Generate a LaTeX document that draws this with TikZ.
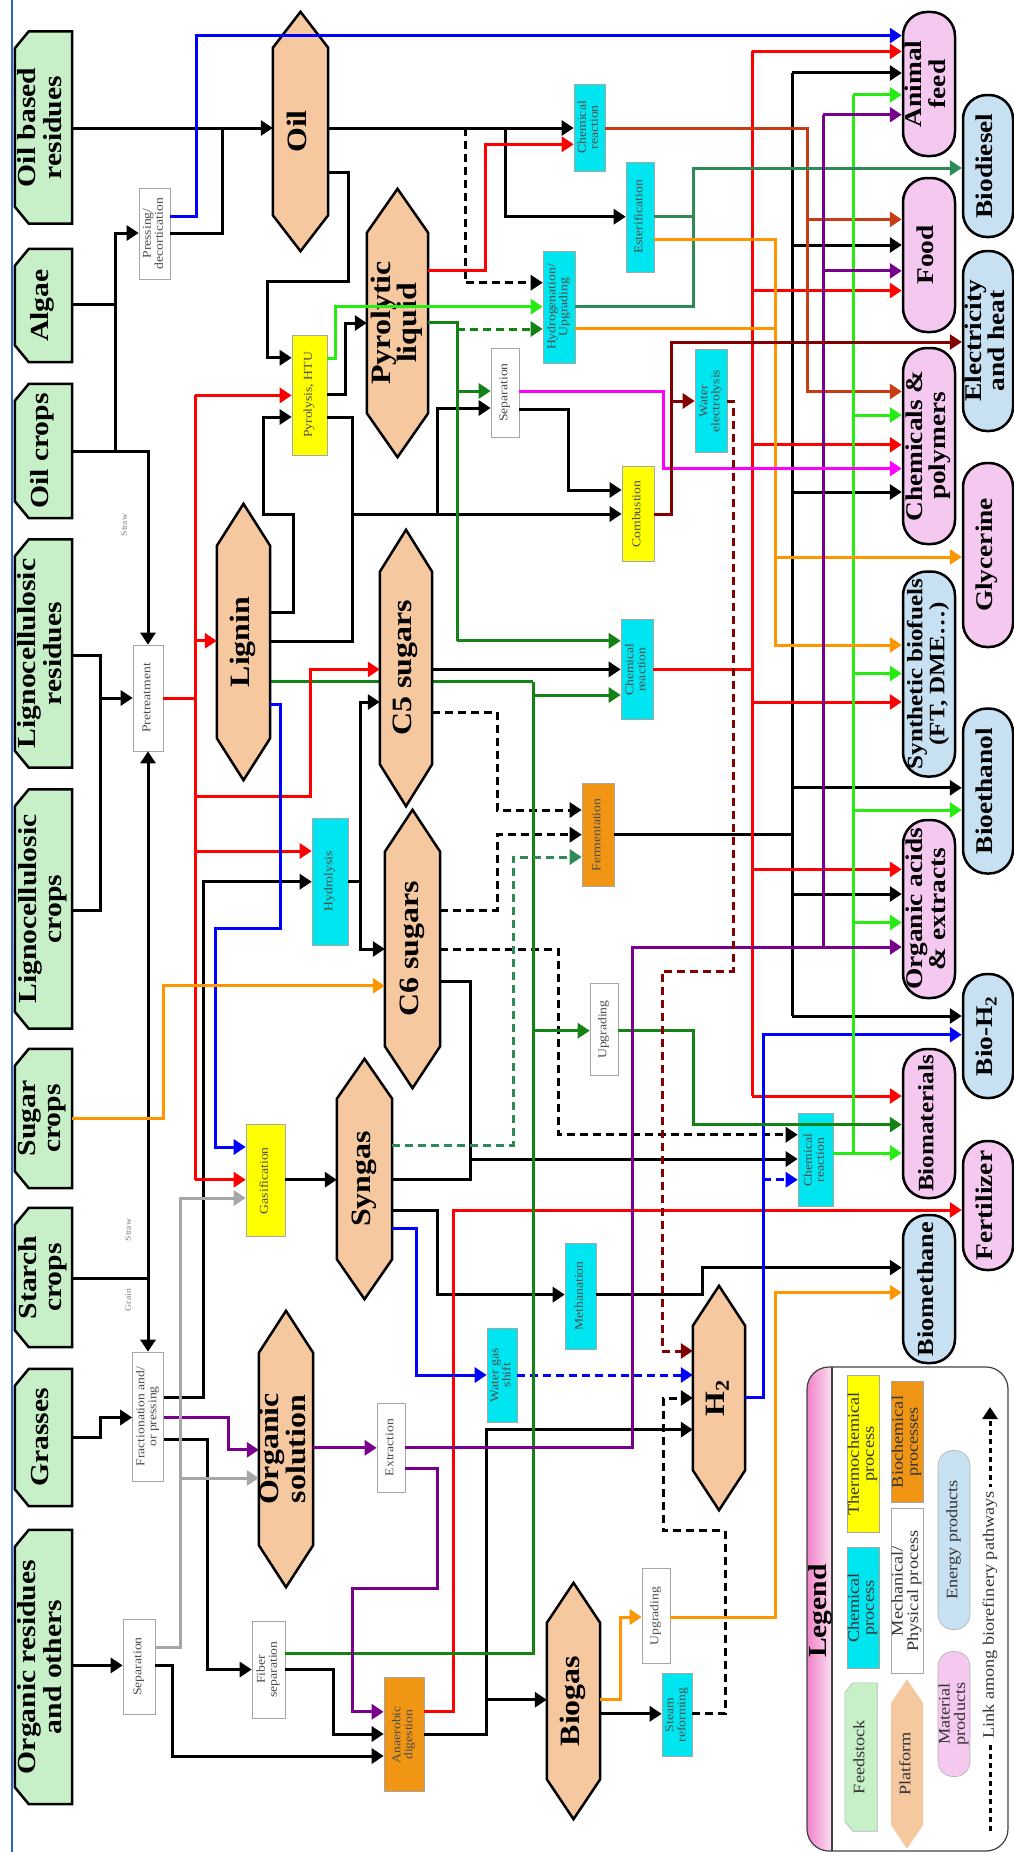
\documentclass[tikz,border=0pt]{standalone}
\usepackage{fontspec}
\setmainfont{Liberation Serif}[FakeStretch=1.14]
\usepackage{graphicx}
\usetikzlibrary{arrows.meta,backgrounds}

\definecolor{feedgreen}{RGB}{200,240,200}
\definecolor{plattan}{RGB}{245,200,160}
\definecolor{matpink}{RGB}{245,200,240}
\definecolor{enblue}{RGB}{200,225,242}
\definecolor{chemcyan}{RGB}{0,230,240}
\definecolor{thyellow}{RGB}{255,255,0}
\definecolor{bioorange}{RGB}{240,150,20}
\definecolor{dkgreen}{RGB}{20,130,20}
\definecolor{ltgreen}{RGB}{40,235,20}
\definecolor{seagreen}{RGB}{46,139,87}
\definecolor{orangeln}{RGB}{255,150,0}
\definecolor{purpleln}{RGB}{120,0,140}
\definecolor{maroonln}{RGB}{130,0,0}
\definecolor{rustln}{RGB}{200,60,20}
\definecolor{magentaln}{RGB}{255,0,255}
\definecolor{legpink}{RGB}{240,130,200}
\definecolor{frameblue}{RGB}{40,100,200}

\newcommand\vtext[1]{\rotatebox{90}{\begin{tabular}{@{}c@{}}#1\end{tabular}}}

\tikzset{
  feedst/.style={minimum width=57, inner sep=0, font=\fontsize{26}{25}\selectfont\bfseries},
  plat/.style={inner sep=0, font=\fontsize{28}{25}\selectfont\bfseries},
  matprod/.style={draw, line width=2.5pt, fill=matpink, rounded corners=24, inner sep=0, font=\fontsize{24}{23}\selectfont\bfseries},
  enprod/.style={matprod, fill=enblue},
  mechproc/.style={draw=black!35, line width=0.6pt, fill=white, inner sep=0, font=\fontsize{12}{12}\selectfont, text=black!70},
  chemproc/.style={mechproc, fill=chemcyan},
  thermproc/.style={mechproc, fill=thyellow},
  bioproc/.style={mechproc, fill=bioorange},
  ar/.style={line width=3pt, -{Triangle[length=12pt,width=15pt]}},
  ln/.style={line width=3pt},
  dsh/.style={dash pattern=on 8pt off 5pt},
  lbl/.style={font=\fontsize{8.5}{9}\selectfont, text=black!50, inner sep=0},
  legitem/.style={inner sep=0, minimum width=32, font=\fontsize{16}{15}\selectfont, text=black!80},
}

\begin{document}
\begin{tikzpicture}[x=1pt, y=-1pt]
  \useasboundingbox (0,0) rectangle (1014,1852);
  \draw[frameblue, line width=2pt] (12,0) -- (12,1852);

  \node[feedst, minimum height=192] (oilres) at (43.5,127.5) {\vtext{Oil based\\residues}};
  \node[feedst, minimum height=113] (algae) at (43.5,305.5) {\vtext{Algae}};
  \node[feedst, minimum height=134] (oilcrop) at (43.5,451) {\vtext{Oil crops}};
  \node[feedst, minimum height=228] (lignores) at (43.5,653.5) {\vtext{Lignocellulosic\\residues}};
  \node[feedst, minimum height=239] (lignocrop) at (43.5,909) {\vtext{Lignocellulosic\\crops}};
  \node[feedst, minimum height=139] (sugar) at (43.5,1118.5) {\vtext{Sugar\\crops}};
  \node[feedst, minimum height=139] (starch) at (43.5,1277.5) {\vtext{Starch\\crops}};
  \node[feedst, minimum height=137] (grasses) at (43.5,1437.5) {\vtext{Grasses}};
  \node[feedst, minimum height=274] (orgres) at (43.5,1667) {\vtext{Organic residues\\and others}};

  \node[plat, minimum width=55, minimum height=239] (oil) at (300.5,131.5) {\vtext{Oil}};
  \node[plat, minimum width=61, minimum height=268] (pyro) at (397.5,323) {\vtext{Pyrolytic\\liquid}};
  \node[plat, minimum width=53, minimum height=276] (lignin) at (243.5,642) {\vtext{Lignin}};
  \node[plat, minimum width=52, minimum height=276] (c5) at (406,668) {\vtext{C5 sugars}};
  \node[plat, minimum width=55, minimum height=278] (c6) at (412.5,949) {\vtext{C6 sugars}};
  \node[plat, minimum width=55, minimum height=240] (syngas) at (364.5,1179) {\vtext{Syngas}};
  \node[plat, minimum width=54, minimum height=276] (orgsol) at (286,1449) {\vtext{Organic\\solution}};
  \node[plat, minimum width=53, minimum height=236] (biogas) at (573.5,1701) {\vtext{Biogas}};
  \node[plat, minimum width=52, minimum height=224] (h2) at (719,1398) {\vtext{H\textsubscript{2}}};

  \node[mechproc, minimum width=31, minimum height=91] (pressing) at (154.5,233.5) {\vtext{Pressing/\\decortication}};
  \node[mechproc, minimum width=30, minimum height=106] (pretreat) at (148,698) {\vtext{Pretreatment}};
  \node[mechproc, minimum width=31, minimum height=129] (fract) at (148,1416.5) {\vtext{Fractionation and/\\or pressing}};
  \node[mechproc, minimum width=32, minimum height=95] (sepleft) at (139,1666.5) {\vtext{Separation}};
  \node[mechproc, minimum width=33, minimum height=97] (fiber) at (268.5,1669.5) {\vtext{Fiber\\separation}};
  \node[mechproc, minimum width=28, minimum height=89] (extract) at (391,1447.5) {\vtext{Extraction}};
  \node[mechproc, minimum width=28, minimum height=95] (upglow) at (656,1616) {\vtext{Upgrading}};
  \node[mechproc, minimum width=28, minimum height=92] (upgmid) at (604,1029.6) {\vtext{Upgrading}};
  \node[mechproc, minimum width=28, minimum height=89] (sepup) at (505,392.5) {\vtext{Separation}};
  \node[chemproc, minimum width=31, minimum height=87] (chemtop) at (589.5,127.3) {\vtext{Chemical\\reaction}};
  \node[chemproc, minimum width=28, minimum height=110] (ester) at (640,217) {\vtext{Esterification}};
  \node[chemproc, minimum width=32, minimum height=112] (hydro) at (559,307) {\vtext{Hydrogenation/\\Upgrading}};
  \node[chemproc, minimum width=32, minimum height=103] (waterel) at (711,401) {\vtext{Water\\electrolysis}};
  \node[chemproc, minimum width=36, minimum height=127] (hydrol) at (330,881.5) {\vtext{Hydrolysis}};
  \node[chemproc, minimum width=32, minimum height=100] (chemmid) at (637,669.6) {\vtext{Chemical\\reaction}};
  \node[chemproc, minimum width=35, minimum height=93] (chemlow) at (815.5,1160) {\vtext{Chemical\\reaction}};
  \node[chemproc, minimum width=30, minimum height=94] (wgs) at (502,1375) {\vtext{Water gas\\shift}};
  \node[chemproc, minimum width=31, minimum height=106] (methan) at (580.5,1296) {\vtext{Methanation}};
  \node[chemproc, minimum width=30, minimum height=83] (steam) at (677,1715) {\vtext{Steam\\reforming}};
  \node[thermproc, minimum width=35, minimum height=120] (pyrol) at (309.5,395) {\vtext{Pyrolysis, HTU}};
  \node[thermproc, minimum width=32, minimum height=95] (comb) at (638,514) {\vtext{Combustion}};
  \node[thermproc, minimum width=39, minimum height=112] (gasif) at (265.5,1180.6) {\vtext{Gasification}};
  \node[bioproc, minimum width=32, minimum height=103] (ferm) at (598,835) {\vtext{Fermentation}};
  \node[bioproc, minimum width=40, minimum height=114] (ad) at (404,1734.6) {\vtext{Anaerobic\\digestion}};

  \node[matprod, minimum width=52, minimum height=144] (afeed) at (929,84) {\vtext{Animal\\feed}};
  \node[matprod, minimum width=52, minimum height=154] (food) at (929,255) {\vtext{Food}};
  \node[matprod, minimum width=52, minimum height=196] (chempoly) at (929,446) {\vtext{Chemicals \&\\polymers}};
  \node[enprod, minimum width=52, minimum height=205, font=\fontsize{22}{22}\selectfont\bfseries] (synfuel) at (929,674) {\vtext{Synthetic biofuels\\(FT, DME…)}};
  \node[matprod, minimum width=52, minimum height=178] (orgacid) at (929,909) {\vtext{Organic acids\\\& extracts}};
  \node[matprod, minimum width=52, minimum height=149, font=\fontsize{22}{22}\selectfont\bfseries] (biomat) at (929,1123.5) {\vtext{Biomaterials}};
  \node[enprod, minimum width=52, minimum height=148, font=\fontsize{23}{23}\selectfont\bfseries] (biometh) at (929,1289) {\vtext{Biomethane}};
  \node[enprod, minimum width=50, minimum height=142] (biodiesel) at (988,166) {\vtext{Biodiesel}};
  \node[enprod, minimum width=50, minimum height=180] (elec) at (988,341) {\vtext{Electricity\\and heat}};
  \node[matprod, minimum width=50, minimum height=184] (glyc) at (988,555) {\vtext{Glycerine}};
  \node[enprod, minimum width=50, minimum height=165] (bioeth) at (988,791) {\vtext{Bioethanol}};
  \node[enprod, minimum width=50, minimum height=124] (bioh2) at (988,1036) {\vtext{Bio-H\textsubscript{2}}};
  \node[matprod, minimum width=50, minimum height=129] (fert) at (988,1205.5) {\vtext{Fertilizer}};

  \node[lbl] (straw1) at (124,525) {\rotatebox{90}{Straw}};
  \node[lbl] (straw2) at (128,1230) {\rotatebox{90}{Straw}};
  \node[lbl] (grain) at (128,1300) {\rotatebox{90}{Grain}};

  \node[font=\fontsize{26}{26}\selectfont\bfseries, inner sep=0] (legtitle) at (820,1611) {\rotatebox{90}{Legend}};
  \node[legitem, minimum height=148] (lgfeed) at (861,1757) {\vtext{Feedstock}};
  \node[chemproc, legitem, minimum height=121] (lgchem) at (863,1608) {\vtext{Chemical\\process}};
  \node[thermproc, legitem, minimum height=157] (lgtherm) at (863,1454) {\vtext{Thermochemical\\process}};
  \node[legitem, minimum height=169] (lgplat) at (907,1764) {\vtext{Platform}};
  \node[mechproc, legitem, minimum height=165] (lgmech) at (907,1591) {\vtext{Mechanical/\\Physical process}};
  \node[bioproc, legitem, minimum height=121] (lgbio) at (907,1442) {\vtext{Biochemical\\processes}};
  \node[matprod, legitem, draw=black!30, line width=0.6pt, rounded corners=15, minimum height=125] (lgmat) at (954,1714) {\vtext{Material\\products}};
  \node[enprod, legitem, draw=black!30, line width=0.6pt, rounded corners=15, minimum height=179] (lgener) at (954,1540) {\vtext{Energy products}};
  \draw[ln, dash pattern=on 5pt off 4pt, -{Triangle[length=12pt,width=15pt]}] (990,1831) -- (990,1407);
  \node[legitem, fill=white, inner ysep=4] (lglink) at (990,1615) {\rotatebox{90}{Link among biorefinery pathways}};

  \begin{scope}[on background layer]
    \begin{scope}
      \clip[rounded corners=22] (807,1367) rectangle (1008,1851);
      \shade[left color=legpink, right color=legpink!25] (807,1367) rectangle (832,1851);
    \end{scope}
    \draw[line width=1.2pt, black!75, rounded corners=22] (807,1367) rectangle (1008,1851);
    \draw[line width=1.2pt, black!75] (832,1367) -- (832,1851);
    \draw[ln, dkgreen] (lignin.east|-0,681.6) -- (533,681.6);
    \foreach \n/\d in {oil/36,pyro/44,lignin/42,c5/42,c6/42,syngas/40,orgsol/42,biogas/40,h2/40}
      \filldraw[fill=plattan, line width=2.5pt] (\n.north) -- ([yshift=-\d]\n.north east) -- ([yshift=\d]\n.south east) -- (\n.south) -- ([yshift=\d]\n.south west) -- ([yshift=-\d]\n.north west) -- cycle;
    \foreach \n in {oilres,algae,oilcrop,lignores,lignocrop,sugar,starch,grasses,orgres}
      \filldraw[fill=feedgreen, line width=2.5pt] ([xshift=14]\n.north west) -- (\n.north east) -- (\n.south east) -- ([xshift=14]\n.south west) -- ([yshift=17]\n.south west) -- ([yshift=-17]\n.north west) -- cycle;
    \fill[plattan] (lgplat.north) -- ([yshift=-24]lgplat.north east) -- ([yshift=24]lgplat.south east) -- (lgplat.south) -- ([yshift=24]lgplat.south west) -- ([yshift=-24]lgplat.north west) -- cycle;
    \filldraw[fill=feedgreen, draw=black!30, line width=0.6pt] ([xshift=8]lgfeed.north west) -- (lgfeed.north east) -- (lgfeed.south east) -- ([xshift=8]lgfeed.south west) -- ([yshift=10]lgfeed.south west) -- ([yshift=-10]lgfeed.north west) -- cycle;
  \end{scope}

  \draw[ar] (oilres.east|-0,128) -- (oil.west|-0,128);
  \draw[ln] (pressing.east|-0,233) -| (222,128);
  \draw[ln] (algae.east|-0,304.5) -- (115,304.5);
  \draw[ar] (oilcrop.east|-0,451) -| (115,233) -- (pressing.west|-0,233);
  \draw[ar] (115,451) -| (pretreat.north);
  \draw[ar] (lignores.east|-0,655) -| (100,698) -- (pretreat.west);
  \draw[ln] (lignocrop.east|-0,910) -| (100,698);
  \draw[ar] (starch.east|-0,1278.5) -| (fract.north);
  \draw[ar] (148,1278.5) -- (pretreat.south);
  \draw[ar] (grasses.east|-0,1437.7) -| (100,1417.5) -- (fract.west|-0,1417.5);
  \draw[ar] (orgres.east|-0,1665.4) -- (sepleft.west|-0,1665.4);
  \draw[ar] (oil.east|-0,128) -- (chemtop.west|-0,128);
  \draw[ar] (505,128) |- (ester.west|-0,216.7);
  \draw[ar, dsh] (465,128) |- (hydro.west|-0,282.7);
  \draw[ar] (oil.east|-0,172) -| (348,281.5) -| (267,357.8) -- (pyrol.west|-0,357.8);
  \draw[ar] (lignin.east|-0,612) -| (293,514) -| (263,417) -- (pyrol.west|-0,417);
  \draw[ln] (pyrol.east|-0,417) -| (352,514);
  \draw[ln] (lignin.east|-0,641) -| (352,514);
  \draw[ar] (352,514) -- (comb.west|-0,514);
  \draw[ar] (437,514) |- (sepup.west|-0,408);
  \draw[ar] (pyrol.east|-0,394) -| (345,323) -- (pyro.west|-0,323);
  \draw[ar] (sepup.east|-0,409) -| (568,490) -- (comb.west|-0,490);
  \draw[ar] (c5.east|-0,669.4) -- (chemmid.west|-0,669.4);
  \draw[ar] (hydrol.east|-0,881.7) -| (360,702) -- (c5.west|-0,702);
  \draw[ar] (360,881.7) |- (c6.west|-0,949);
  \draw[ar] (fract.east|-0,1397) -| (203,881.7) -- (hydrol.west|-0,881.7);
  \draw[ar] (fract.east|-0,1439.7) -| (207,1669.5) -- (fiber.west|-0,1669.5);
  \draw[ar] (fiber.east|-0,1669.5) -| (333,1734) -- (ad.west|-0,1734);
  \draw[ar] (sepleft.east|-0,1665.4) -| (172,1756) -- (ad.west|-0,1756);
  \draw[ln] (ferm.east|-0,834.7) -- (792,834.7);
  \draw[ln] (792,73) -- (792,1016);
  \foreach \y/\n in {73/afeed,245/food,492/chempoly,894/orgacid,787.8/bioeth,1016/bioh2}
    \draw[ar] (792,\y) -- (\n.west|-0,\y);
  \draw[ar] (gasif.east|-0,1179.7) -- (syngas.west|-0,1179.7);
  \draw[ar] (c6.east|-0,981.7) -| (470,1159) -- (chemlow.west|-0,1159);
  \draw[ln] (syngas.east|-0,1179.6) -| (470,1159);
  \draw[ar] (syngas.east|-0,1210) -| (437,1294.6) -- (methan.west|-0,1294.6);
  \draw[ar] (methan.east|-0,1294.6) -| (702,1267.6) -- (biometh.west|-0,1267.6);
  \draw[ar] (biogas.east|-0,1713.8) -- (steam.west|-0,1713.8);
  \draw[ar] (ad.east|-0,1734) -| (486,1699.7) -- (biogas.west|-0,1699.7);
  \draw[ar] (486,1699.7) |- (h2.west|-0,1429.6);
  \draw[ar, dsh] (c5.east|-0,712) -| (497,810) -- (ferm.west|-0,810);
  \draw[ar, dsh] (c6.east|-0,910) -| (497,834.7) -- (ferm.west|-0,834.7);
  \draw[ar, dsh] (c6.east|-0,949) -| (558,1134.7) -- (chemlow.west|-0,1134.7);
  \draw[ar, dsh] (steam.east|-0,1713.8) -| (725,1530.4) -| (663,1398) -- (h2.west|-0,1398);

  \draw[ln, red] (pretreat.east) -- (195,698);
  \draw[ln, red] (195,395.4) -- (195,1179.7);
  \draw[ar, red] (195,395.4) -- (pyrol.west|-0,395.4);
  \draw[ar, red] (195,640.8) -- (lignin.west|-0,640.8);
  \draw[ar, red] (195,796) -| (310,669.4) -- (c5.west|-0,669.4);
  \draw[ar, red] (195,851) -- (hydrol.west|-0,851);
  \draw[ar, red] (195,1179.7) -- (gasif.west|-0,1179.7);
  \draw[ar, red] (pyro.east|-0,270.8) -| (485,144.3) -- (chemtop.west|-0,144.3);
  \draw[ln, red] (chemmid.east|-0,669.4) -- (752,669.4);
  \draw[ln, red] (752,51.4) -- (752,1096);
  \foreach \y/\n in {51.4/afeed,290.6/food,444.8/chempoly,702/synfuel,869.4/orgacid,1096/biomat}
    \draw[ar, red] (752,\y) -- (\n.west|-0,\y);
  \draw[ar, red] (ad.east|-0,1711.8) -| (453,1210) -- (fert.west|-0,1210);
  \draw[ar, rustln] (chemtop.east|-0,128) -| (807,391.5) -- (chempoly.west|-0,391.5);
  \draw[ar, rustln] (807,219.4) -- (food.west|-0,219.4);

  \draw[ar, blue] (pressing.east|-0,216.7) -| (196,35.6) -- (afeed.west|-0,35.6);
  \draw[ar, blue] (lignin.east|-0,704) -| (280,928.6) -| (215,1147) -- (gasif.west|-0,1147);
  \draw[ar, blue] (syngas.east|-0,1228) -| (416,1375) -- (wgs.west);
  \draw[ar, blue, dsh] (wgs.east) -- (h2.west|-0,1375);
  \draw[ar, blue] (h2.east|-0,1397) -| (763,1034.7) -- (bioh2.west|-0,1034.7);
  \draw[ar, blue, dsh] (763,1179.7) -- (chemlow.west|-0,1179.7);

  \draw[ar, ltgreen] (pyrol.east|-0,358) -| (335,306.7) -- (hydro.west|-0,306.7);
  \draw[ln, ltgreen] (chemlow.east|-0,1153) -- (853,1153);
  \draw[ln, ltgreen] (853,94.9) -- (853,1153);
  \foreach \y/\n in {94.9/afeed,415/chempoly,673.5/synfuel,810/bioeth,922.5/orgacid,1153/biomat}
    \draw[ar, ltgreen] (853,\y) -- (\n.west|-0,\y);

  \draw[ln, dkgreen] (pyro.east|-0,322) -| (457,640.8);
  \draw[ar, dkgreen] (457,640.8) -- (chemmid.west|-0,640.8);
  \draw[ar, dkgreen] (457,391) -- (sepup.west|-0,391);
  \draw[ar, dkgreen, dsh] (457,329) -- (hydro.west|-0,329);
  \draw[ln, dkgreen] (fiber.east|-0,1653.3) -| (533,681.6);
  \draw[ar, dkgreen] (533,695) -- (chemmid.west|-0,695);
  \draw[ar, dkgreen] (533,1030.7) -- (upgmid.west|-0,1030.7);
  \draw[ar, dkgreen] (upgmid.east|-0,1030.7) -| (693,1124.6) -- (biomat.west|-0,1124.6);

  \draw[ar, seagreen] (hydro.east|-0,306.4) -| (693,168) -- (biodiesel.west|-0,168);
  \draw[ln, seagreen] (ester.east|-0,216.7) -- (693,216.7);
  \draw[ar, seagreen, dsh] (syngas.east|-0,1145) -| (513,857) -- (ferm.west|-0,857);

  \draw[ar, orangeln] (ester.east|-0,239) -| (775,557) -- (glyc.west|-0,557);
  \draw[ar, orangeln] (hydro.east|-0,328) -| (775,645) -- (synfuel.west|-0,645);
  \draw[ar, orangeln] (sugar.east|-0,1118.4) -| (163,985.8) -- (c6.west|-0,985.8);
  \draw[ar, orangeln] (biogas.east|-0,1699.7) -| (620,1617) -- (upglow.west|-0,1617);
  \draw[ar, orangeln] (upglow.east|-0,1617) -| (775,1292.6) -- (biometh.west|-0,1292.6);

  \draw[ar, purpleln] (fract.east|-0,1417.5) -| (228,1449.8) -- (orgsol.west|-0,1449.8);
  \draw[ar, purpleln] (orgsol.east|-0,1447.8) -- (extract.west|-0,1447.8);
  \draw[ar, purpleln] (extract.east|-0,1447.8) -| (632,947) -- (orgacid.west|-0,947);
  \draw[ln, purpleln] (823,114.7) -- (823,947);
  \foreach \y/\n in {114.7/afeed,270.9/food}
    \draw[ar, purpleln] (823,\y) -- (\n.west|-0,\y);
  \draw[ar, purpleln] (extract.east|-0,1468) -| (437,1588.8) -| (352,1711.8) -- (ad.west|-0,1711.8);

  \draw[ar, magentaln] (sepup.east|-0,391.5) -| (663,468.5) -- (chempoly.west|-0,468.5);
  \draw[ar, maroonln] (comb.east|-0,514) -| (671,342) -- (elec.west|-0,342);
  \draw[ar, maroonln] (671,401) -- (waterel.west|-0,401);
  \draw[ar, maroonln, dsh] (waterel.east|-0,401) -| (733,971.5) -| (662,1351) -- (h2.west|-0,1351);

  \draw[ar, gray!70] (sepleft.east|-0,1647.3) -| (180,1198) -- (gasif.west|-0,1198);
  \draw[ar, gray!70] (180,1478) -- (orgsol.west|-0,1478);
\end{tikzpicture}
\end{document}
